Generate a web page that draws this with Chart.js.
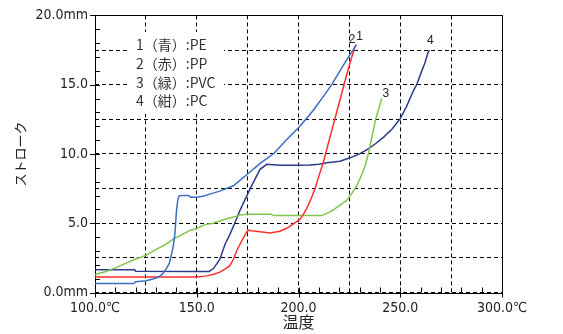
<!DOCTYPE html>
<html><head><meta charset="utf-8">
<script src="https://cdn.jsdelivr.net/npm/chart.js@4/dist/chart.umd.min.js"></script>
<style>html,body{margin:0;padding:0;background:#fff}</style>
</head><body>
<canvas id="c" width="563" height="334"></canvas>
<script>
// ---- data (temperature °C, stroke mm) ----
const peTemp   = [100,119,120,125,128,131,133,135,136.5,137.5,138.5,139.3,140,140.6,141.2,142,146,147,150,153,156.5,162,168,175,181,188,194,200.7,207,212,216.3,220,223.5,226.8,228.5];
const peStroke = [0.65,0.65,0.78,0.85,0.95,1.1,1.3,1.7,2.1,2.7,3.4,4.3,5.8,6.6,6.95,7.0,7.0,6.88,6.88,6.95,7.1,7.35,7.7,8.55,9.3,10.05,11.0,12.0,13.1,14.1,15.0,15.9,16.75,17.5,17.9];

const ppTemp   = [100,150,155,158,161.4,164,166.3,168,169.6,171.3,172.9,174.5,175.3,177,180,186,190.9,194,195.8,198,200.4,202,204,206,208.1,210,212.2,216,220,224,227.8];
const ppStroke = [1.12,1.12,1.2,1.3,1.47,1.7,1.94,2.4,3.0,3.5,3.94,4.35,4.5,4.45,4.4,4.3,4.42,4.62,4.77,5.0,5.24,5.55,6.06,6.7,7.48,8.4,9.4,11.5,13.7,15.9,17.8];

const pvcTemp   = [100,105,110,115,120,125,131,135,139,143,147,150,154,158,163,168,171.3,174.5,186.5,188,200,211.4,214,217,220.4,223.7,226,228.6,230.5,232.7,234.3,237.9,240.9];
const pvcStroke = [1.3,1.5,1.78,2.1,2.42,2.68,3.19,3.5,3.9,4.2,4.5,4.62,4.9,5.0,5.25,5.45,5.6,5.64,5.64,5.55,5.55,5.55,5.71,5.95,6.3,6.65,7.1,7.72,8.3,9.13,10.0,12.5,14.0];

const pcTemp   = [100,119.5,120,150,156,158.1,160,161.4,163.9,166,168,171.3,176.2,181.1,184.4,190.9,200,205.6,210,213.9,220.4,225.3,230,233.5,237.5,241.7,246,250,253,256.4,258.2,260.5,262.2,263.6,264.3];
const pcStroke = [1.64,1.64,1.53,1.52,1.52,1.71,2.1,2.42,3.48,4.1,4.77,5.95,7.48,8.89,9.25,9.18,9.18,9.2,9.25,9.36,9.48,9.72,10.0,10.3,10.7,11.2,11.8,12.55,13.4,14.54,15.05,15.96,16.6,17.3,17.5];

const seriesNames = ['1（青）:PE','2（赤）:PP','3（緑）:PVC','4（紺）:PC'];
const endLabels   = ['1','2','3','4'];
const xTickLabels = {100:'100.0℃',150:'150.0',200:'200.0',250:'250.0',300:'300.0℃'};
const yTickLabels = {0:'0.0mm',5:'5.0',10:'10.0',15:'15.0',20:'20.0mm'};
const xTitle = '温度';
const yTitle = 'ストローク';

// ---- styling ----
const colors = ['#3b6dc3','#ff2e2e','#80c64a','#2c3a8e'];
const labelOffsets = [[3,-8],[-3,-6],[4,-5],[1,-9]];
const zip = (xs, ys) => xs.map((x,i)=>({x, y: ys[i]}));
const allData = [zip(peTemp,peStroke), zip(ppTemp,ppStroke), zip(pvcTemp,pvcStroke), zip(pcTemp,pcStroke)];

const tickFont = "'Liberation Sans Narrow','DejaVu Sans Condensed','Liberation Sans',sans-serif";

const decorPlugin = {
  id: 'decor',
  beforeDatasetsDraw(chart){
    const {ctx, chartArea:a, scales:{x, y}} = chart;
    ctx.save();
    // legend background
    ctx.fillStyle = '#fff';
    ctx.fillRect(128, 32, 96, 82);
    // legend text
    ctx.fillStyle = '#333';
    ctx.font = "14px 'Noto Sans CJK JP'";
    ctx.textBaseline = 'middle';
    ctx.textAlign = 'left';
    seriesNames.forEach((s,i)=>ctx.fillText(s, 136, 45 + i*18.7));
    // frame
    ctx.strokeStyle = '#000';
    ctx.lineWidth = 1;
    ctx.setLineDash([]);
    ctx.strokeRect(Math.round(a.left)+0.5, Math.round(a.top)+0.5, Math.round(a.right)-Math.round(a.left), Math.round(a.bottom)-Math.round(a.top));
    // inward ticks
    ctx.beginPath();
    for (let v = 100; v <= 300; v += 10) {
      const px = Math.round(x.getPixelForValue(v)) + 0.5;
      const major = v % 50 === 0;
      ctx.moveTo(px, a.bottom + (major ? 5 : 0));
      ctx.lineTo(px, a.bottom - 5);
    }
    for (let v = 0; v <= 20; v += 1) {
      const py = Math.round(y.getPixelForValue(v)) + 0.5;
      const major = v % 5 === 0;
      ctx.moveTo(a.left - (major ? 5 : 0), py);
      ctx.lineTo(a.left + 5, py);
    }
    ctx.stroke();
    ctx.restore();
  },
  afterDatasetsDraw(chart){
    const {ctx} = chart;
    ctx.save();
    ctx.fillStyle = '#222';
    ctx.font = "12px 'Liberation Sans',sans-serif";
    ctx.textAlign = 'center';
    ctx.textBaseline = 'middle';
    chart.data.datasets.forEach((ds, i) => {
      const meta = chart.getDatasetMeta(i);
      const p = meta.data[meta.data.length - 1];
      ctx.fillText(endLabels[i], p.x + labelOffsets[i][0], p.y + labelOffsets[i][1]);
    });
    ctx.restore();
  }
};

new Chart(document.getElementById('c'), {
  type: 'line',
  data: {
    datasets: allData.map((d,i)=>({
      label: seriesNames[i],
      data: d,
      borderColor: colors[i],
      backgroundColor: colors[i],
      borderWidth: 1.5,
      pointRadius: 0,
      tension: 0,
      fill: false
    }))
  },
  options: {
    responsive: false,
    animation: false,
    devicePixelRatio: 1,
    layout: { padding: { top: 9, right: 61, left: 0, bottom: 0 } },
    plugins: { legend: { display: false }, tooltip: { enabled: false } },
    scales: {
      x: {
        type: 'linear', min: 100, max: 300,
        afterFit: s => { s.height = 41.5; },
        ticks: {
          stepSize: 25, autoSkip: false, maxRotation: 0, padding: 7,
          color: '#222', font: { family: tickFont, size: 14 },
          callback: v => xTickLabels[v] ?? ''
        },
        grid: { color: '#000', lineWidth: 1, drawTicks: false },
        border: { display: false, dash: [4,3] },
        title: { display: true, text: xTitle, color: '#222', font: { family: "'Noto Sans CJK JP'", size: 16 }, padding: { top: 0, bottom: 2 } }
      },
      y: {
        type: 'linear', min: 0, max: 20,
        afterFit: s => { s.width = 95; },
        ticks: {
          stepSize: 2.5, autoSkip: false, padding: 7,
          color: '#222', font: { family: tickFont, size: 14 },
          callback: v => yTickLabels[v] ?? ''
        },
        grid: { color: '#000', lineWidth: 1, drawTicks: false },
        border: { display: false, dash: [4,3] },
        title: { display: true, text: yTitle, color: '#222', font: { family: "'Noto Sans CJK JP'", size: 13 }, padding: { top: 12, bottom: 0 } }
      }
    }
  },
  plugins: [decorPlugin]
});
</script>
</body></html>
